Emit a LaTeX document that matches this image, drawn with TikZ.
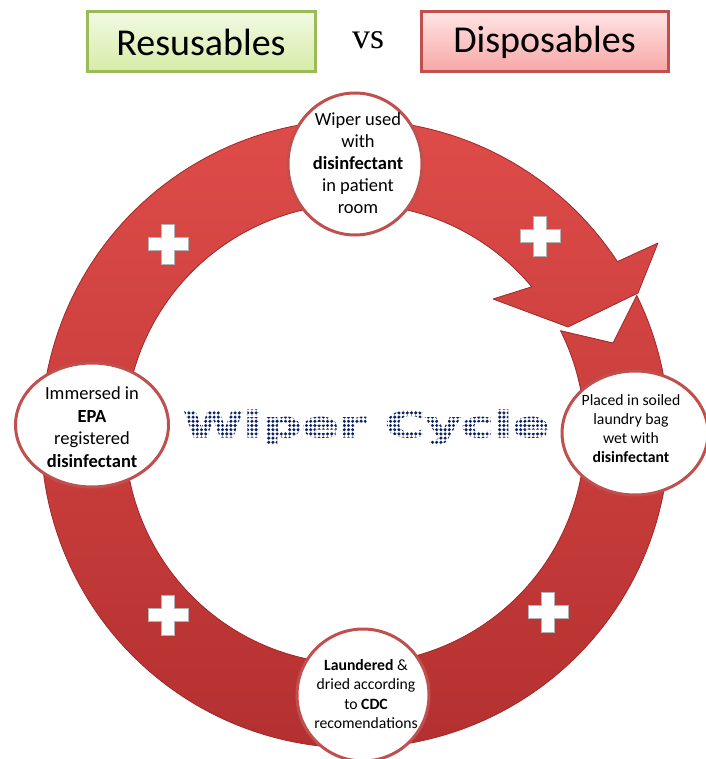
\documentclass[tikz,border=0pt]{standalone}
\usepackage{fontspec}
\usepackage{graphicx}
\setmainfont{Carlito}
\newfontfamily\vsfont{Liberation Serif}
\newfontfamily\cyclefont[FakeBold=3]{DejaVu Sans}
\usetikzlibrary{shapes.geometric}
\definecolor{ringtop}{RGB}{222,76,73}
\definecolor{ringbot}{RGB}{180,48,48}
\definecolor{ringdark}{RGB}{160,40,40}
\definecolor{circbord}{RGB}{192,80,77}
\definecolor{greenbord}{RGB}{155,187,89}
\definecolor{greentop}{RGB}{242,249,228}
\definecolor{greenbot}{RGB}{214,236,166}
\definecolor{redbord}{RGB}{192,80,77}
\definecolor{redtop}{RGB}{255,228,228}
\definecolor{redbot}{RGB}{247,166,166}
\definecolor{navy}{RGB}{14,34,96}
\begin{document}
\begin{tikzpicture}[x=1pt,y=-1pt,
  bubble/.style={ellipse, draw=circbord, line width=3pt, fill=white, inner sep=0pt},
  bubbletext/.style={align=center, text=black, inner sep=0pt},
  titlebox/.style={rectangle, line width=3pt, inner sep=0pt, minimum height=60pt,
     font=\fontsize{38}{44}\selectfont},
  plussign/.style={fill=white, draw=black!30, line width=0.6pt}]
\useasboundingbox (0,0) rectangle (705,759);

% title row
\node[titlebox, draw=greenbord, top color=greentop, bottom color=greenbot,
      minimum width=228pt] (reuse) at (201,42) {Resusables};
\node[inner sep=0pt, font=\vsfont\fontsize{36}{42}\selectfont] (vs) at (368,40) {vs};
\node[titlebox, draw=redbord, top color=redtop, bottom color=redbot,
      minimum width=247pt] (dispo) at (544.5,42) {Disposables};

% ring with arrow head
\path[top color=ringtop, bottom color=ringbot, draw=ringdark, line width=0.8pt, line join=round]
  (637,295) -- plot[domain=-26.2:326.7, samples=200] ({355+314*cos(\x)},{434+314*sin(\x)})
  -- (658,243) -- (638,293) -- (568,327) -- (493,299)
  -- plot[domain=320.2:-26.7, samples=200] ({355+230*cos(\x)},{434+230*sin(\x)})
  -- (613,343) -- cycle;

% plus signs
\foreach \px/\py in {168/244, 540/236, 168/615, 548/612}{
  \path[plussign, shift={(\px,\py)}]
    (-6.5,-20) -- (6.5,-20) -- (6.5,-6.5) -- (20,-6.5) -- (20,6.5) -- (6.5,6.5)
    -- (6.5,20) -- (-6.5,20) -- (-6.5,6.5) -- (-20,6.5) -- (-20,-6.5) -- (-6.5,-6.5) -- cycle;
}

% bubbles
\node[bubble, minimum width=134pt, minimum height=142pt] (top) at (355,164) {};
\node[bubble, minimum width=153pt, minimum height=124pt] (left) at (92,425) {};
\node[bubble, minimum width=146pt, minimum height=124pt] (right) at (635,433) {};
\node[bubble, minimum width=132pt, minimum height=132pt] (bottom) at (363,695) {};

\node[bubbletext, font=\fontsize{18.5}{22}\selectfont] (ttop) at (358,163)
  {Wiper used\\with\\\textbf{disinfectant}\\in patient\\room};
\node[bubbletext, font=\fontsize{18.5}{22.5}\selectfont] (tleft) at (92,427)
  {Immersed in\\\textbf{EPA}\\registered\\\textbf{disinfectant}};
\node[bubbletext, font=\fontsize{15.7}{19}\selectfont] (tright) at (631,429)
  {Placed in soiled\\laundry bag\\wet with\\\textbf{disinfectant}};
\node[bubbletext, font=\fontsize{15.7}{19.3}\selectfont] (tbottom) at (366,694)
  {\textbf{Laundered} \&\\dried according\\to \textbf{CDC}\\recomendations};

% centre title, seen through a dot screen
\node[anchor=base west, inner sep=0pt, text=navy] (cycle) at (183,437)
  {\resizebox{366pt}{27pt}{\cyclefont\bfseries Wiper Cycle}};
\fill[white, even odd rule] (176,402) rectangle (558,458)
  \foreach \i in {0,...,90} { \foreach \j in {0,...,12} {
     ({180.5+4.2*\i},{404.5+4.2*\j}) circle (1.95) } };
\end{tikzpicture}
\end{document}
